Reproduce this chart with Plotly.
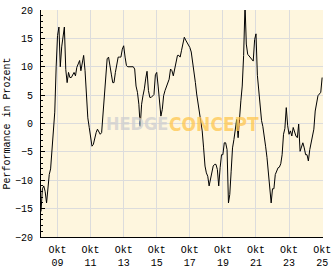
import pandas as pd
import plotly.graph_objects as go

START_MONTH = "2008-10-01"
performance = [
    -15.5, -11.5, -11, -12, -14, -10.8, -9, -8, -4.6, -2,
    2, 10, 15.5, 17, 10, 13.5, 15.5, 17, 9.5, 7.2,
    9, 8.1, 8.1, 8.7, 9, 8.4, 9.9, 10.5, 11.1, 9.3,
    11.1, 12, 9.3, 5.2, 1, -0.7, -2.5, -4, -3.7, -2.5,
    -1.6, -1, -1.6, -1.9, -1.6, 1.6, 5.8, 8.7, 11.4, 11.7,
    9.9, 8.7, 7.2, 7.2, 9, 10.5, 11.7, 11.7, 11.7, 13.1,
    13.7, 11.7, 10.2, 10, 10, 10, 10, 10, 9.6, 6.6,
    5.5, 3.4, -0.5, 3.4, 4.9, 6.1, 8, 9.2, 5.8, 4.6,
    4.6, 4.8, 5.1, 8.6, 9, 6.6, 4.5, 1.3, 2.5, 4.9,
    5.8, 6.4, 7, 7.8, 9.6, 9.3, 8.4, 9.6, 11.1, 12,
    12, 11.7, 12.9, 14.3, 15.2, 14.7, 14.3, 14, 13.4, 12.6,
    11.1, 9.3, 7.2, 5.2, 3.7, 2.2, 0.2, -1.3, -4.3, -7.5,
    -8.7, -9.3, -11, -9.6, -8.5, -7.5, -7.2, -7.2, -8.1, -11,
    -7.8, -5.5, -5.5, -3.4, -3.4, -4.6, -14, -12.5, -8.4, -4.3,
    -2.8, -1, 0.7, -2.5, 1.6, 4, 6.6, 12, 21, 14,
    12.2, 11.9, 11.7, 11.5, 11, 14.8, 15.8, 8.5, 5.7, 2.5,
    0.5, -0.5, -2, -4, -6, -8.7, -11, -14, -11.5, -11.5,
    -9, -8.4, -7.8, -7.7, -7.1, -5.5, -1.9, -0.9, 2.8, -0.4,
    -1.9, -1.3, -2.2, -0.7, -1.6, -2.2, -2.5, -0.1, -4.9, -4.3,
    -3.4, -4.3, -5.5, -5.5, -6.6, -4.6, -3.1, -2.2, -1, 2.2,
    3.7, 4.9, 5.2, 5.5, 8.1,
]
tick_dates = ["2009-10-01", "2011-10-01", "2013-10-01", "2015-10-01",
              "2017-10-01", "2019-10-01", "2021-10-01", "2023-10-01", "2025-10-01"]
tick_labels = ["Okt<br>09", "Okt<br>11", "Okt<br>13", "Okt<br>15", "Okt<br>17",
               "Okt<br>19", "Okt<br>21", "Okt<br>23", "Okt<br>25"]
y_ticks = [-20, -15, -10, -5, 0, 5, 10, 15, 20]

dates = pd.date_range(START_MONTH, periods=len(performance), freq="MS")

FONT = "Liberation Mono, DejaVu Sans Mono, monospace"
WM_FONT = "Liberation Sans Narrow, DejaVu Sans Condensed, Arial Narrow, sans-serif"

fig = go.Figure()
fig.add_trace(go.Scatter(
    x=dates, y=performance, mode="lines",
    line=dict(color="#000000", width=1),
    hoverinfo="skip", showlegend=False,
))

fig.add_annotation(
    x=0.342, y=0.5, xref="paper", yref="paper", xanchor="center", yanchor="middle",
    text="<b>HEDGE</b>", showarrow=False,
    font=dict(family=WM_FONT, size=18, color="rgba(208,208,208,0.8)"),
)
fig.add_annotation(
    x=0.613, y=0.5, xref="paper", yref="paper", xanchor="center", yanchor="middle",
    text="<b>CONCEPT</b>", showarrow=False,
    font=dict(family=WM_FONT, size=19, color="rgba(255,198,80,0.75)"),
)

fig.update_layout(
    width=332, height=269,
    margin=dict(l=41, r=9, t=10, b=32),
    paper_bgcolor="#FFFFFF",
    plot_bgcolor="#FEF6DE",
    font=dict(family=FONT, size=10, color="#000000"),
    xaxis=dict(
        type="date",
        range=["2008-10-01", "2025-10-20"],
        tickvals=tick_dates, ticktext=tick_labels,
        showgrid=True, gridcolor="#DCDCDC", gridwidth=1,
        showline=True, linecolor="#000000", linewidth=1,
        ticks="", zeroline=False,
        automargin=False,
        ticklabelstandoff=3,
        tickfont=dict(family=FONT, size=10, color="#000000"),
    ),
    yaxis=dict(
        range=[-20, 20],
        tickvals=y_ticks,
        showgrid=True, gridcolor="#DCDCDC", gridwidth=1,
        showline=True, linecolor="#000000", linewidth=1,
        ticks="inside", ticklen=4, tickcolor="#000000", tickwidth=1,
        minor=dict(ticks="inside", dtick=1, ticklen=2, tickcolor="#000000", showgrid=False),
        zeroline=False,
        automargin=False,
        ticklabelstandoff=5,
        tickfont=dict(family=FONT, size=10, color="#000000"),
        title=dict(text="Performance in Prozent", standoff=2,
                   font=dict(family=FONT, size=10, color="#000000")),
    ),
)

fig.write_html("out.html")
